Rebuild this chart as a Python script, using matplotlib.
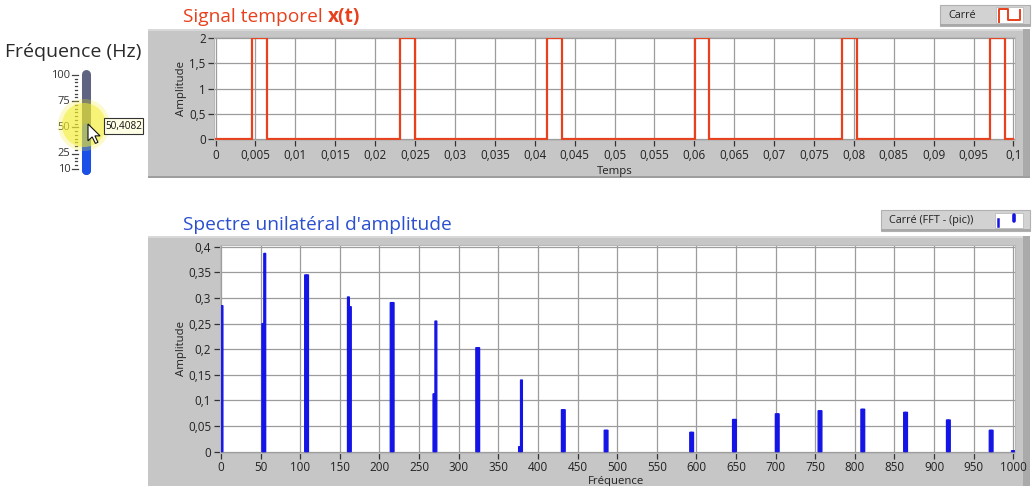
import matplotlib
matplotlib.use("Agg")
import matplotlib.pyplot as plt
import numpy as np
from matplotlib.patches import Rectangle, Circle, Polygon
from matplotlib.ticker import FuncFormatter, FixedLocator

# ---------------- data ----------------
# square-wave pulses (time in s): rising / falling edges, high level
pulse_rise = [0.00451, 0.02311, 0.04158, 0.06005, 0.07852, 0.09708]
pulse_fall = [0.00647, 0.02494, 0.04342, 0.06189, 0.08044, 0.09892]
pulse_high = 2.0
t_end = 0.1

# one-sided amplitude spectrum: each line is two adjacent bins
peak_freq = [0, 54, 108, 162, 216, 270, 324, 378, 432, 486,
             594, 648, 702, 756, 810, 864, 918, 972, 1000]
peak_amp_left = [0.285, 0.250, 0.345, 0.302, 0.291, 0.113, 0.203, 0.010, 0.082, 0.042,
                 0.038, 0.063, 0.074, 0.080, 0.083, 0.077, 0.062, 0.042, 0.002]
peak_amp_right = [0.285, 0.387, 0.345, 0.283, 0.291, 0.255, 0.203, 0.140, 0.082, 0.042,
                  0.038, 0.063, 0.074, 0.080, 0.083, 0.077, 0.062, 0.042, 0.002]

time_ticks = np.arange(0, 0.1001, 0.005)
amp_ticks_time = [0, 0.5, 1, 1.5, 2]
freq_ticks = np.arange(0, 1001, 50)
amp_ticks_freq = np.arange(0, 0.4001, 0.05)

slider_ticks = [10, 25, 50, 75, 100]
slider_value = 50.4082
slider_label = "50,4082"

# ---------------- figure ----------------
W, H = 1033, 486
plt.rcParams["font.family"] = ["Open Sans", "DejaVu Sans"]
fig = plt.figure(figsize=(W / 100, H / 100), dpi=100)
fig.patch.set_facecolor("white")


def frac(x0, y0, x1, y1):
    return [x0 / W, 1 - y1 / H, (x1 - x0) / W, (y1 - y0) / H]


bg = fig.add_axes([0, 0, 1, 1])
bg.set_xlim(0, W)
bg.set_ylim(H, 0)
bg.axis("off")
bg.set_zorder(0)

PANEL = "#c6c6c6"
RED = "#e8401c"
BLUE = "#1414e6"
TITLE_BLUE = "#2a4fd0"


def panel(x0, y0, x1, y1):
    bg.add_patch(Rectangle((x0, y0), x1 - x0, y1 - y0, fc=PANEL, ec="none"))
    bg.add_patch(Rectangle((x0, y0), x1 - x0, 2, fc="#d8d8d8", ec="none"))
    bg.add_patch(Rectangle((x1 - 7, y0), 7, y1 - y0, fc="#aaaaaa", ec="none"))
    bg.add_patch(Rectangle((x0, y1 - 2), x1 - x0, 2, fc="#9e9e9e", ec="none"))


panel(148, 29, 1030, 178)
panel(148, 236, 1030, 490)

comma = FuncFormatter(lambda v, p: ("%g" % v).replace(".", ","))


def style_axes(ax):
    ax.set_facecolor("white")
    ax.grid(True, color="#9c9c9c", lw=0.9)
    ax.set_axisbelow(True)
    for s in ax.spines.values():
        s.set_color("#b8b8b8")
        s.set_linewidth(0.8)
    ax.tick_params(direction="out", length=4.5, width=0.9, color="#333333",
                   labelsize=8.4, labelcolor="#222222", pad=1.5)


# ---------------- time signal ----------------
ax1 = fig.add_axes(frac(214, 37, 1015, 140.5))
ax1.set_zorder(2)
style_axes(ax1)
t = [0.0]
x = [0.0]
for r, f in zip(pulse_rise, pulse_fall):
    t += [r, r, f, f]
    x += [0.0, pulse_high, pulse_high, 0.0]
t.append(t_end)
x.append(0.0)
ax1.plot(t, x, color=RED, lw=1.6, solid_joinstyle="miter")
ax1.set_xlim(-0.0002, 0.1002)
ax1.set_ylim(-0.02, 2.02)
ax1.xaxis.set_major_locator(FixedLocator(time_ticks))
ax1.yaxis.set_major_locator(FixedLocator(amp_ticks_time))
ax1.xaxis.set_major_formatter(comma)
ax1.yaxis.set_major_formatter(comma)

# ---------------- spectrum ----------------
ax2 = fig.add_axes(frac(219.5, 245, 1015, 453))
ax2.set_zorder(2)
style_axes(ax2)
ax2.bar(peak_freq, peak_amp_left, width=-2.4, align="edge", color=BLUE,
        ec=BLUE, lw=0.9, snap=False)
ax2.bar(peak_freq, peak_amp_right, width=2.4, align="edge", color=BLUE,
        ec=BLUE, lw=0.9, snap=False)
ax2.set_xlim(-1.9, 1002.1)
ax2.set_ylim(-0.0025, 0.4033)
ax2.xaxis.set_major_locator(FixedLocator(freq_ticks))
ax2.yaxis.set_major_locator(FixedLocator(amp_ticks_freq))
ax2.xaxis.set_major_formatter(comma)
ax2.yaxis.set_major_formatter(comma)

# axis labels
lab = dict(fontsize=8.2, color="#222222", ha="center", va="center")
bg.text(181.5, 88, "Amplitude", rotation=90, **lab)
bg.text(615, 171, "Temps", **lab)
bg.text(181.5, 348, "Amplitude", rotation=90, **lab)
bg.text(616, 481, "Fréquence", **lab)

# ---------------- titles ----------------
t1 = bg.text(183, 17, "Signal temporel ", fontsize=13.8, color=RED,
             ha="left", va="center")
fig.canvas.draw()
bb = t1.get_window_extent()
bg.text(bb.x1, 17, "x(t)", fontsize=13.8, color=RED, fontweight="bold",
        ha="left", va="center")
bg.text(183, 225, "Spectre unilatéral d'amplitude", fontsize=13.8,
        color=TITLE_BLUE, ha="left", va="center")

# ---------------- legends ----------------
def legend_box(x0, y0, x1, y1, text, sx0, sx1):
    bg.add_patch(Rectangle((x0, y0), x1 - x0, y1 - y0, fc="#d2d2d2",
                           ec="#b0b0b0", lw=0.8))
    bg.add_patch(Rectangle((x0, y1 - 2), x1 - x0, 2, fc="#a8a8a8", ec="none"))
    bg.text(x0 + 8, (y0 + y1) / 2, text, fontsize=7.8, color="#222222",
            ha="left", va="center")
    bg.add_patch(Rectangle((sx0, y0 + 2.5), sx1 - sx0, y1 - y0 - 5.5,
                           fc="white", ec="#bcbcbc", lw=0.6))


legend_box(940, 5, 1030, 26.5, "Carré", 996, 1023)
bg.add_line(plt.Line2D([999, 999, 1008, 1008, 1020, 1020],
                       [22, 9.5, 9.5, 20.5, 20.5, 10], color=RED, lw=1.4))
legend_box(881, 210, 1030, 231, "Carré (FFT - (pic))", 995, 1023)
bg.add_line(plt.Line2D([998, 998], [219, 226], color=BLUE, lw=1.8))
bg.add_line(plt.Line2D([1014, 1014], [215, 221], color=BLUE, lw=2.6,
                       solid_capstyle="round"))

# ---------------- frequency slider ----------------
bg.text(73, 52, "Fréquence (Hz)", fontsize=14, color="#2a2a2a",
        ha="center", va="center")


def sy(v):
    return 75 + (100 - v) * 1.048


track_x = 85.5
bg.add_line(plt.Line2D([track_x, track_x], [sy(100) - 0.5, sy(10) + 0.5],
                       color="#5d6380", lw=6.5, solid_capstyle="round"))
bg.add_line(plt.Line2D([track_x, track_x], [sy(slider_value), sy(10) + 0.5],
                       color="#1a4fe8", lw=6.5, solid_capstyle="round"))

for a, b, n in [(10, 25, 4), (25, 50, 7), (50, 75, 7), (75, 100, 7)]:
    for v in np.linspace(a, b, n + 1)[1:-1]:
        bg.add_line(plt.Line2D([74.5, 77], [sy(v), sy(v)], color="#444444", lw=0.9))
for v in slider_ticks:
    bg.add_line(plt.Line2D([71.5, 77.5], [sy(v), sy(v)], color="#444444", lw=0.9))
    bg.text(70.5, sy(v), str(v), fontsize=8, color="#333333",
            ha="right", va="center")

# highlight under the pointer
bg.add_patch(Circle((84, 125), 26, fc="#f4ee30", ec="none", alpha=0.25, zorder=5))
bg.add_patch(Circle((84, 125), 22, fc="#f4ee30", ec="none", alpha=0.55, zorder=5))

# value tooltip
bg.add_patch(Rectangle((104, 118), 39, 16, fc="#ffffe6", ec="#333333", lw=0.8,
                       zorder=6))
bg.text(123.5, 126, slider_label, fontsize=7.2, color="#111111",
        ha="center", va="center", zorder=7)

# pointer arrow
arrow = np.array([(0, 0), (0, 16), (4, 12.3), (7, 18.5), (9.5, 17.4),
                  (6.6, 11.3), (11.5, 11.3)]) * 1.05 + np.array([88, 124])
bg.add_patch(Polygon(arrow, closed=True, fc="white", ec="#111111", lw=0.8,
                     zorder=8))

fig.savefig("out.png", dpi=100, facecolor="white")
